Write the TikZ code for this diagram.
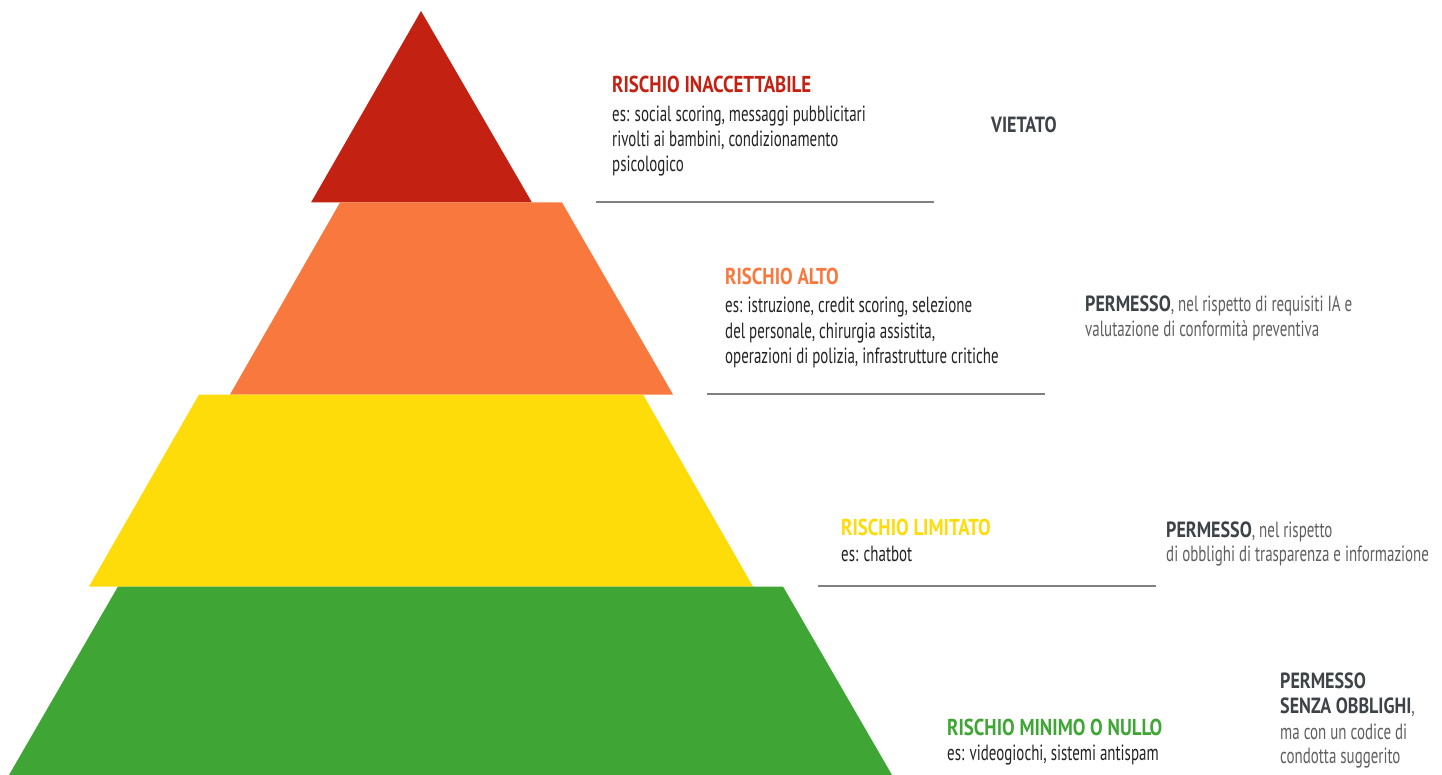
\documentclass[tikz,border=0pt]{standalone}
\usepackage{fontspec}
\setmainfont{PT Sans}
\newfontfamily\bodyf[FakeStretch=0.68]{PT Sans}
\newfontfamily\headf[FakeStretch=0.82]{PT Sans}
\definecolor{redc}{RGB}{195,33,18}
\definecolor{orangec}{RGB}{248,120,61}
\definecolor{yellowc}{RGB}{253,220,10}
\definecolor{greenc}{RGB}{63,165,53}
\definecolor{bodyc}{RGB}{35,35,35}
\definecolor{notec}{RGB}{95,95,95}
\definecolor{noteb}{RGB}{62,67,72}
\definecolor{rulec}{RGB}{128,128,128}
\tikzset{
  title/.style={anchor=base west,inner sep=0pt,font=\headf\bfseries\fontsize{23}{27}\selectfont},
  body/.style={anchor=base west,inner sep=0pt,text=bodyc,font=\bodyf\fontsize{22}{26}\selectfont},
  note/.style={anchor=base west,inner sep=0pt,text=notec,font=\bodyf\fontsize{22}{26}\selectfont},
  rule/.style={draw=rulec,line width=2pt},
}
\newcommand{\permb}[1]{{\headf\bfseries\color{noteb}#1}}
\begin{document}
\begin{tikzpicture}[x=1pt,y=-1pt]
\useasboundingbox (0,0) rectangle (1442,775);
% pyramid layers
\fill[redc] (421,11) -- (532,202.5) -- (311,202.5) -- cycle;
\fill[orangec] (340,202.5) -- (562,202.5) -- (673,394.5) -- (230,394.5) -- cycle;
\fill[yellowc] (199,394.5) -- (643,394.5) -- (753,586.5) -- (89,586.5) -- cycle;
\fill[greenc] (118,586.5) -- (783,586.5) -- (892,775) -- (9,775) -- cycle;
% rules
\coordinate (r1a) at (596,202); \coordinate (r1b) at (934,202);
\coordinate (r2a) at (707,394); \coordinate (r2b) at (1045,394);
\coordinate (r3a) at (818,586); \coordinate (r3b) at (1156,586);
\draw[rule] (r1a) -- (r1b);
\draw[rule] (r2a) -- (r2b);
\draw[rule] (r3a) -- (r3b);
% unacceptable
\node[title,text=redc] (t1) at (612,93) {RISCHIO INACCETTABILE};
\node[body] (b1a) at (612,122) {es: social scoring, messaggi pubblicitari};
\node[body] (b1b) at (612,147) {rivolti ai bambini, condizionamento};
\node[body] (b1c) at (612,172) {psicologico};
\node[note] (n1) at (991,133) {\permb{VIETATO}};
% high
\node[title,text=orangec] (t2) at (725,285) {RISCHIO ALTO};
\node[body] (b2a) at (725,313) {es: istruzione, credit scoring, selezione};
\node[body] (b2b) at (725,338) {del personale, chirurgia assistita,};
\node[body] (b2c) at (725,363) {operazioni di polizia, infrastrutture critiche};
\node[note] (n2a) at (1085,312) {\permb{PERMESSO}, nel rispetto di requisiti IA e};
\node[note] (n2b) at (1085,337) {valutazione di conformità preventiva};
% limited
\node[title,text=yellowc] (t3) at (841,535) {RISCHIO LIMITATO};
\node[body] (b3a) at (841,561) {es: chatbot};
\node[note] (n3a) at (1166,537) {\permb{PERMESSO}, nel rispetto};
\node[note] (n3b) at (1166,561) {di obblighi di trasparenza e informazione};
% minimal
\node[title,text=greenc] (t4) at (947,735) {RISCHIO MINIMO O NULLO};
\node[body] (b4a) at (947,760) {es: videogiochi, sistemi antispam};
\node[note] (n4a) at (1280,688) {\permb{PERMESSO}};
\node[note] (n4b) at (1280,713) {\permb{SENZA OBBLIGHI},};
\node[note] (n4c) at (1280,739) {ma con un codice di};
\node[note] (n4d) at (1280,763) {condotta suggerito};
\end{tikzpicture}
\end{document}
